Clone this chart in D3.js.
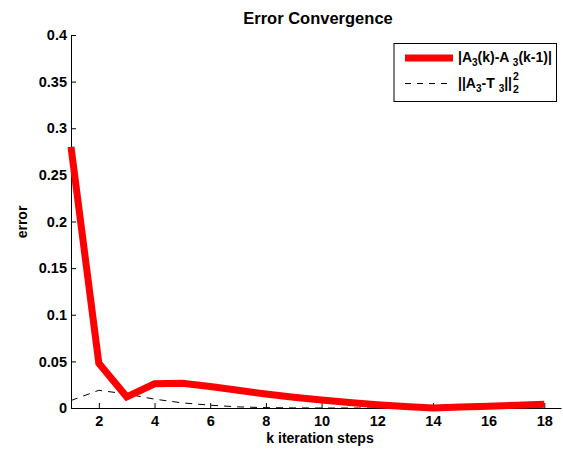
<!DOCTYPE html>
<html><head><meta charset="utf-8">
<script src="https://cdn.jsdelivr.net/npm/d3@7"></script>
<style>
html,body{margin:0;padding:0;background:#fff;}
svg{display:block;}
text{font-family:"Liberation Sans",Arial,Helvetica,sans-serif;font-weight:bold;fill:#000;}
</style></head>
<body>
<script>
// ---- data ----
const steps = [1,2,3,4,5,6,7,8,9,10,11,12,13,14,15,16,17,18];
const diffErr = [0.280,0.048,0.012,0.026,0.0265,0.023,0.019,0.015,0.0115,0.0085,0.006,0.0035,0.0015,0.0,0.001,0.002,0.003,0.004];
const truthErr = [0.008,0.019,0.015,0.0095,0.0055,0.003,0.0012,0.0004,0.0001,0,0,0,0,0,0,0,0,0];
const xTicks = [2,4,6,8,10,12,14,16,18];
const yTicks = [0,0.05,0.1,0.15,0.2,0.25,0.3,0.35,0.4];
const yTickLabels = ["0","0.05","0.1","0.15","0.2","0.25","0.3","0.35","0.4"];
const titleText = "Error Convergence";
const xLabel = "k iteration steps";
const yLabel = "error";

const W = 563, H = 449;
const svg = d3.select("body").append("svg").attr("width", W).attr("height", H);

const x = d3.scaleLinear().domain([1, 18.6]).range([71, 561]);
const y = d3.scaleLinear().domain([0, 0.4]).range([408, 35]);

// axes
const xAxis = d3.axisBottom(x).tickValues(xTicks).tickSizeInner(-5).tickSizeOuter(0).tickPadding(10);
const gx = svg.append("g").attr("transform", "translate(0,408)").call(xAxis);
gx.select(".domain").attr("stroke", "#000").attr("stroke-width", 1);
gx.selectAll(".tick line").attr("stroke", "#000");
gx.selectAll(".tick text").attr("font-size", 14.5).attr("font-family", "Liberation Sans, Arial, sans-serif").attr("font-weight", "bold").attr("dy", "0.71em").attr("y", 8);

const yAxis = d3.axisLeft(y).tickValues(yTicks).tickFormat((d,i) => yTickLabels[i]).tickSizeInner(-5).tickSizeOuter(0).tickPadding(8);
const gy = svg.append("g").attr("transform", "translate(71,0)").call(yAxis);
gy.select(".domain").attr("stroke", "#000").attr("stroke-width", 1);
gy.selectAll(".tick line").attr("stroke", "#000");
gy.selectAll(".tick text").attr("font-size", 14.5).attr("font-family", "Liberation Sans, Arial, sans-serif").attr("font-weight", "bold").attr("x", -4);

// lines
const line = (arr) => d3.line().x((d,i) => x(steps[i])).y(d => y(d))(arr);
svg.append("path").attr("d", line(truthErr)).attr("fill", "none").attr("stroke", "#000").attr("stroke-width", 1).attr("stroke-dasharray", "7,6");
svg.append("path").attr("d", line(diffErr)).attr("fill", "none").attr("stroke", "#ff0000").attr("stroke-width", 7).attr("stroke-linejoin", "miter");

// title and labels
svg.append("text").attr("x", 318).attr("y", 24).attr("text-anchor", "middle").attr("font-size", 16.5).text(titleText);
svg.append("text").attr("x", 320).attr("y", 443).attr("text-anchor", "middle").attr("font-size", 14).text(xLabel);
svg.append("text").attr("transform", "translate(27,222) rotate(-90)").attr("text-anchor", "middle").attr("font-size", 14).text(yLabel);

// legend
const lg = svg.append("g");
lg.append("rect").attr("x", 394).attr("y", 43.5).attr("width", 162.5).attr("height", 58).attr("fill", "#fff").attr("stroke", "#000").attr("stroke-width", 1);
lg.append("line").attr("x1", 405).attr("x2", 453).attr("y1", 58).attr("y2", 58).attr("stroke", "#ff0000").attr("stroke-width", 7);
lg.append("line").attr("x1", 405).attr("x2", 453).attr("y1", 83.5).attr("y2", 83.5).attr("stroke", "#000").attr("stroke-width", 1).attr("stroke-dasharray", "6,6");

const t1 = lg.append("text").attr("x", 458).attr("y", 62).attr("font-size", 14);
t1.append("tspan").text("|A");
t1.append("tspan").attr("font-size", 10).attr("dy", 4).text("3");
t1.append("tspan").attr("dy", -4).text("(k)-A ");
t1.append("tspan").attr("font-size", 10).attr("dy", 4).text("3");
t1.append("tspan").attr("dy", -4).text("(k-1)|");

const t2 = lg.append("text").attr("x", 458).attr("y", 88).attr("font-size", 14);
t2.append("tspan").text("||A");
t2.append("tspan").attr("font-size", 10).attr("dy", 4).text("3");
t2.append("tspan").attr("dy", -4).text("-T ");
t2.append("tspan").attr("font-size", 10).attr("dy", 4).text("3");
t2.append("tspan").attr("dy", -4).text("||");
const endX = 458 + t2.node().getComputedTextLength();
lg.append("text").attr("x", endX + 1).attr("y", 92.5).attr("font-size", 10.5).text("2");
lg.append("text").attr("x", endX + 1).attr("y", 80).attr("font-size", 10.5).text("2");
</script>
</body></html>
